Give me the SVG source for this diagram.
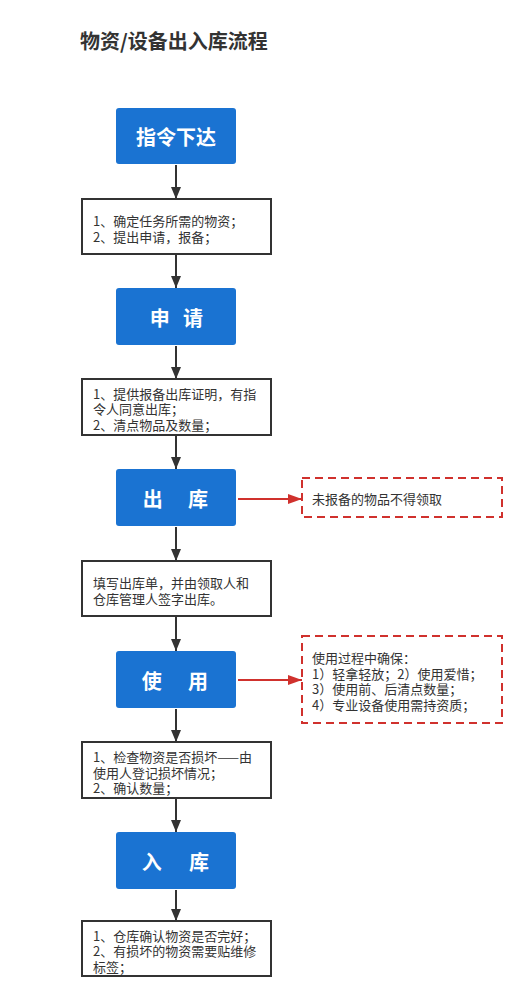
<svg xmlns="http://www.w3.org/2000/svg" width="526" height="1000" viewBox="0 0 526 1000">
<style>
.title{font-family:"Noto Sans CJK SC","Noto Sans",sans-serif;font-size:20px;font-weight:bold;fill:#333}
.blue rect{fill:#1a73d2;stroke:none}
.blue text{font-family:"Noto Sans CJK SC","Noto Sans",sans-serif;font-size:20px;font-weight:bold;fill:#fff;text-anchor:middle;dominant-baseline:central}
.box rect{fill:#fff;stroke:#333;stroke-width:2}
.note rect{fill:#fff;stroke:#d0312d;stroke-width:2;stroke-dasharray:8 5}
.t{font-family:"Noto Sans CJK SC","Noto Sans",sans-serif;font-size:13px;fill:#333;dominant-baseline:central}
.c line{stroke:#333;stroke-width:2}
.c line.r{stroke:#d0312d}
</style>
<defs>
<marker id="ah" viewBox="0 0 12 10" refX="12" refY="5" markerWidth="12" markerHeight="10" markerUnits="userSpaceOnUse" orient="auto">
<path d="M0,0 L12,5 L0,10 Z" fill="#333"/>
</marker>
<marker id="ahr" viewBox="0 0 14 10" refX="14" refY="5" markerWidth="14" markerHeight="10" markerUnits="userSpaceOnUse" orient="auto">
<path d="M0,0 L14,5 L0,10 Z" fill="#d0312d"/>
</marker>
</defs>
<rect width="526" height="1000" fill="#fff"/>
<text class="title" x="80" y="49">物资/设备出入库流程</text>
<g class="c" id="connectors">
<line x1="176" y1="165" x2="176" y2="199" marker-end="url(#ah)"/>
<line x1="176" y1="255" x2="176" y2="288" marker-end="url(#ah)"/>
<line x1="176" y1="346" x2="176" y2="379" marker-end="url(#ah)"/>
<line x1="176" y1="436" x2="176" y2="469" marker-end="url(#ah)"/>
<line x1="176" y1="527" x2="176" y2="561" marker-end="url(#ah)"/>
<line x1="176" y1="617" x2="176" y2="651" marker-end="url(#ah)"/>
<line x1="176" y1="709" x2="176" y2="742" marker-end="url(#ah)"/>
<line x1="176" y1="799" x2="176" y2="832" marker-end="url(#ah)"/>
<line x1="176" y1="890" x2="176" y2="921" marker-end="url(#ah)"/>
<line class="r" x1="238" y1="499" x2="302" y2="499" marker-end="url(#ahr)"/>
<line class="r" x1="238" y1="680" x2="302" y2="680" marker-end="url(#ahr)"/>
</g>
<g class="blue" id="n1"><rect x="116" y="108" width="120" height="56" rx="3"/><text x="176" y="136">指令下达</text></g>
<g class="box" id="n2"><rect x="82" y="199" width="189" height="55"/>
<text class="t" x="93" y="220">1、确定任务所需的物资；</text>
<text class="t" x="93" y="236">2、提出申请，报备；</text></g>
<g class="blue" id="n3"><rect x="116" y="288" width="120" height="57" rx="3"/><text y="317"><tspan x="162">申</tspan> <tspan x="193">请</tspan></text></g>
<g class="box" id="n4"><rect x="82" y="379" width="189" height="56"/>
<text class="t" x="93" y="393">1、提供报备出库证明，有指</text>
<text class="t" x="93" y="408.5">令人同意出库；</text>
<text class="t" x="93" y="424">2、清点物品及数量；</text></g>
<g class="blue" id="n5"><rect x="116" y="469" width="120" height="57" rx="3"/><text y="498"><tspan x="155">出</tspan> <tspan x="198">库</tspan></text></g>
<g class="note" id="n6"><rect x="302" y="478" width="200" height="39"/>
<text class="t" x="312" y="498">未报备的物品不得领取</text></g>
<g class="box" id="n7"><rect x="82" y="561" width="189" height="55"/>
<text class="t" x="93" y="582">填写出库单，并由领取人和</text>
<text class="t" x="93" y="598">仓库管理人签字出库。</text></g>
<g class="blue" id="n8"><rect x="116" y="651" width="120" height="57" rx="3"/><text y="680"><tspan x="154">使</tspan> <tspan x="198">用</tspan></text></g>
<g class="note" id="n9"><rect x="302" y="636" width="200" height="87"/>
<text class="t" x="312" y="657">使用过程中确保：</text>
<text class="t" x="312" y="673">1）轻拿轻放；2）使用爱惜；</text>
<text class="t" x="312" y="688">3）使用前、后清点数量；</text>
<text class="t" x="312" y="704">4）专业设备使用需持资质；</text></g>
<g class="box" id="n10"><rect x="82" y="742" width="189" height="56"/>
<text class="t" x="93" y="756">1、检查物资是否损坏——由</text>
<text class="t" x="93" y="772">使用人登记损坏情况；</text>
<text class="t" x="93" y="787">2、确认数量；</text></g>
<g class="blue" id="n11"><rect x="116" y="832" width="120" height="57" rx="3"/><text y="861"><tspan x="154">入</tspan> <tspan x="199">库</tspan></text></g>
<g class="box" id="n12"><rect x="82" y="921" width="189" height="55"/>
<text class="t" x="93" y="935">1、仓库确认物资是否完好；</text>
<text class="t" x="93" y="950">2、有损坏的物资需要贴维修</text>
<text class="t" x="93" y="966">标签；</text></g>
</svg>
